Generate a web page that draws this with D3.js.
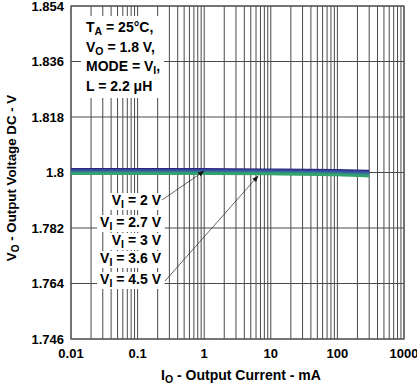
<!DOCTYPE html>
<html>
<head>
<meta charset="utf-8">
<script src="https://cdn.jsdelivr.net/npm/d3@7"></script>
<style>
  body { margin: 0; background: #fff; }
  text { font-family: "Liberation Sans", Arial, sans-serif; font-weight: bold; }
</style>
</head>
<body>
<svg id="chart" width="417" height="387"></svg>
<script>
// Output current points (mA)
const currents = [0.01, 0.1, 1, 10, 100, 300];

// Output voltage for each input voltage
const seriesNames = ["2 V", "2.7 V", "3 V", "3.6 V", "4.5 V"];
const vi2   = [1.8010, 1.8010, 1.8010, 1.8009, 1.8007, 1.8005];
const vi27  = [1.8007, 1.8007, 1.8007, 1.8006, 1.8004, 1.8001];
const vi3   = [1.8003, 1.8003, 1.8003, 1.8002, 1.8000, 1.7997];
const vi36  = [1.7999, 1.7999, 1.7999, 1.7998, 1.7995, 1.7992];
const vi45  = [1.7996, 1.7996, 1.7996, 1.7995, 1.7992, 1.7988];
const series = [vi2, vi27, vi3, vi36, vi45];
const colors = ["#2c2a7e", "#34409a", "#3a62a0", "#2f8c86", "#32a46c"];

const yTicks = [1.746, 1.764, 1.782, 1.8, 1.818, 1.836, 1.854];
const xTicks = [0.01, 0.1, 1, 10, 100, 1000];

const margin = { left: 71, right: 13, top: 6, bottom: 48 };
const w = 417, h = 387;

let svg = d3.select("#chart");

let x = d3.scaleLog().domain([0.01, 1000]).range([margin.left, w - margin.right]);
let y = d3.scaleLinear().domain([1.746, 1.854]).range([h - margin.bottom, margin.top]);

// minor grid for the log axis: 1..9 in every decade
let minor = [];
for (let d = -2; d < 3; d++) {
    for (let m = 1; m < 10; m++) minor.push(m * Math.pow(10, d));
}
minor.push(1000);

let grid = svg.append("g");
grid.selectAll("line.v")
    .data(minor)
    .enter()
    .append("line")
    .attr("x1", d => x(d)).attr("x2", d => x(d))
    .attr("y1", y(1.854)).attr("y2", y(1.746))
    .attr("stroke", "#4a4a4a")
    .attr("stroke-width", 1);

grid.selectAll("line.h")
    .data(yTicks)
    .enter()
    .append("line")
    .attr("x1", x(0.01)).attr("x2", x(1000))
    .attr("y1", d => y(d)).attr("y2", d => y(d))
    .attr("stroke", "#4a4a4a")
    .attr("stroke-width", 1);

svg.append("rect")
    .attr("x", x(0.01)).attr("y", y(1.854))
    .attr("width", x(1000) - x(0.01))
    .attr("height", y(1.746) - y(1.854))
    .attr("fill", "none")
    .attr("stroke", "#555")
    .attr("stroke-width", 1.2);

// Data lines
let line = d3.line()
    .x((d, i) => x(currents[i]))
    .y(d => y(d))
    .curve(d3.curveMonotoneX);

svg.selectAll("path.series")
    .data(series)
    .enter()
    .append("path")
    .attr("d", line)
    .attr("fill", "none")
    .attr("stroke", (d, i) => colors[i])
    .attr("stroke-width", 2.6);

// Tick labels
svg.selectAll("text.yt")
    .data(yTicks)
    .enter()
    .append("text")
    .attr("x", 64)
    .attr("y", d => y(d))
    .attr("dy", "0.35em")
    .attr("text-anchor", "end")
    .attr("font-size", 13)
    .text(d => d3.format(".3~f")(d));

svg.selectAll("text.xt")
    .data(xTicks)
    .enter()
    .append("text")
    .attr("x", d => x(d))
    .attr("y", 358)
    .attr("text-anchor", "middle")
    .attr("font-size", 13)
    .text(d => d < 1 ? d3.format("~g")(d) : d);

// Axis titles
let xt = svg.append("text")
    .attr("x", 241).attr("y", 380)
    .attr("text-anchor", "middle")
    .attr("font-size", 14);
xt.append("tspan").text("I");
xt.append("tspan").attr("font-size", 10.5).attr("dy", 3).text("O");
xt.append("tspan").attr("dy", -3).text(" - Output Current - mA");

let yt = svg.append("text")
    .attr("transform", "translate(16,178) rotate(-90)")
    .attr("text-anchor", "middle")
    .attr("font-size", 13.3);
yt.append("tspan").text("V");
yt.append("tspan").attr("font-size", 10).attr("dy", 3).text("O");
yt.append("tspan").attr("dy", -3).text(" - Output Voltage DC - V");

// Conditions box
svg.append("rect")
    .attr("x", 81).attr("y", 16).attr("width", 83).attr("height", 82)
    .attr("fill", "#fff");

const condLines = [["T", "A", " = 25°C,"], ["V", "O", " = 1.8 V,"], ["MODE = V", "I", ","], ["L = 2.2 μH", "", ""]];
condLines.forEach((c, i) => {
    let t = svg.append("text")
        .attr("x", 86).attr("y", 32 + i * 19.5)
        .attr("font-size", 14);
    t.append("tspan").text(c[0]);
    if (c[1]) {
        t.append("tspan").attr("font-size", 10.5).attr("dy", 3).text(c[1]);
        t.append("tspan").attr("dy", -3).text(c[2]);
    }
});

// Series labels, right aligned
const labelY = [205, 227, 245, 263, 284];
labelY.forEach((ly, i) => {
    let g = svg.append("g");
    let t = g.append("text")
        .attr("x", 161).attr("y", ly)
        .attr("text-anchor", "end")
        .attr("font-size", 14);
    t.append("tspan").text("V");
    t.append("tspan").attr("font-size", 10.5).attr("dy", 3).text("I");
    t.append("tspan").attr("dy", -3).text(" = " + seriesNames[i]);
    let b = t.node().getBBox();
    g.insert("rect", "text")
        .attr("x", b.x - 3).attr("y", b.y + 1)
        .attr("width", b.width + 6).attr("height", b.height - 1)
        .attr("fill", "#fff");
});

// Arrows
svg.append("defs").append("marker")
    .attr("id", "arr")
    .attr("viewBox", "0 0 10 10")
    .attr("refX", 10).attr("refY", 5)
    .attr("markerWidth", 9).attr("markerHeight", 9)
    .attr("orient", "auto")
    .append("path")
    .attr("d", "M0,1 L10,5 L0,9 z")
    .attr("fill", "#111");

svg.append("line")
    .attr("x1", 162).attr("y1", 200)
    .attr("x2", x(1)).attr("y2", y(1.8005))
    .attr("stroke", "#222").attr("stroke-width", 0.7)
    .attr("marker-end", "url(#arr)");

svg.append("line")
    .attr("x1", 165).attr("y1", 281)
    .attr("x2", x(6.5)).attr("y2", y(1.7993) + 1)
    .attr("stroke", "#222").attr("stroke-width", 0.7)
    .attr("marker-end", "url(#arr)");
</script>
</body>
</html>
